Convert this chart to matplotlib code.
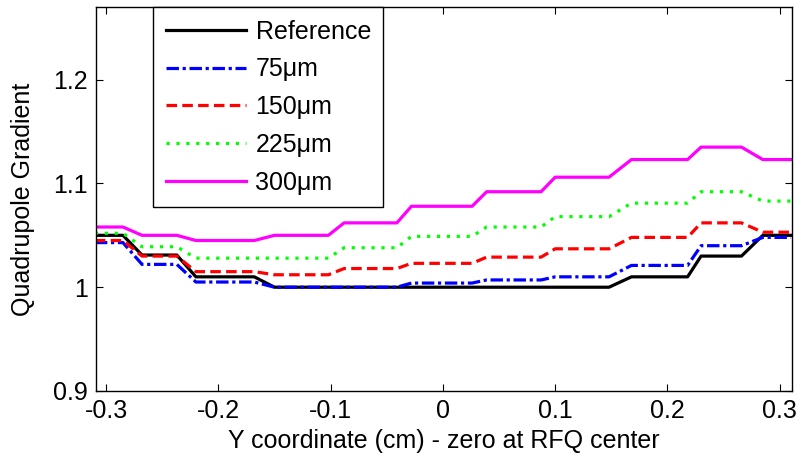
import matplotlib
matplotlib.use('Agg')
import matplotlib.pyplot as plt

plt.rcParams['font.family'] = ['Liberation Sans', 'DejaVu Sans']

# y coordinate (cm), breakpoints of the stepped curves
y_cm = [-0.31, -0.285, -0.268, -0.237, -0.22, -0.168, -0.15, -0.102, -0.088, -0.041, -0.028,
        0.026, 0.039, 0.0875, 0.1, 0.148, 0.168, 0.218, 0.23, 0.266, 0.285, 0.31]

g_ref = [1.050, 1.050, 1.031, 1.031, 1.010, 1.010, 1.000, 1.000, 1.000, 1.000, 1.000,
         1.000, 1.000, 1.000, 1.000, 1.000, 1.010, 1.010, 1.030, 1.030, 1.050, 1.050]
g_75 = [1.043, 1.043, 1.022, 1.022, 1.005, 1.005, 1.000, 1.000, 1.000, 1.000, 1.004,
        1.004, 1.007, 1.007, 1.010, 1.010, 1.021, 1.021, 1.040, 1.040, 1.048, 1.048]
g_150 = [1.045, 1.045, 1.030, 1.030, 1.015, 1.015, 1.012, 1.012, 1.018, 1.018, 1.023,
         1.023, 1.029, 1.029, 1.037, 1.037, 1.048, 1.048, 1.062, 1.062, 1.053, 1.053]
g_225 = [1.052, 1.052, 1.039, 1.039, 1.028, 1.028, 1.028, 1.028, 1.038, 1.038, 1.049,
         1.049, 1.058, 1.058, 1.068, 1.068, 1.081, 1.081, 1.092, 1.092, 1.083, 1.083]
g_300 = [1.058, 1.058, 1.050, 1.050, 1.045, 1.045, 1.050, 1.050, 1.062, 1.062, 1.078,
         1.078, 1.092, 1.092, 1.106, 1.106, 1.123, 1.123, 1.135, 1.135, 1.123, 1.123]

labels = ['Reference', '75\u03bcm', '150\u03bcm', '225\u03bcm', '300\u03bcm']
xticks = [-0.3, -0.2, -0.1, 0, 0.1, 0.2, 0.3]
yticks = [0.9, 1.0, 1.1, 1.2]
yticklabels = ['0.9', '1', '1.1', '1.2']

fig = plt.figure(figsize=(8.01, 4.65), dpi=100)
ax = fig.add_axes([96/801, 1 - 391/465, 696/801, 384/465])

lw = 2.3
ax.plot(y_cm, g_ref, color='black', lw=lw, ls='-', label=labels[0])
ax.plot(y_cm, g_75, color='#0000FF', lw=lw, ls=(0, (3.9, 1.15, 1, 1.15)), label=labels[1])
ax.plot(y_cm, g_150, color='#FF0000', lw=lw, ls=(0, (3.3, 1.65)), label=labels[2])
ax.plot(y_cm, g_225, color='#00FF00', lw=lw, ls=(0, (1, 2.1)), label=labels[3])
ax.plot(y_cm, g_300, color='#FF00FF', lw=lw, ls='-', label=labels[4])

ax.set_xlim(-0.309, 0.311)
ax.set_ylim(0.9, 1.27)
ax.set_xticks(xticks)
ax.set_xticklabels([f'{t:g}' for t in xticks])
ax.set_yticks(yticks)
ax.set_yticklabels(yticklabels)
ax.tick_params(direction='in', top=True, right=True, length=5, width=0.8,
               labelsize=18, pad=6)
for s in ax.spines.values():
    s.set_linewidth(1.0)

ax.set_xlabel('Y coordinate (cm) - zero at RFQ center', fontsize=18, labelpad=4)
ax.set_ylabel('Quadrupole Gradient', fontsize=18, labelpad=13)

leg = ax.legend(loc='upper left', bbox_to_anchor=(57/696, 1.0), fontsize=18,
                handlelength=3.2, handletextpad=0.4, labelspacing=0.55,
                borderpad=0.5, borderaxespad=0, fancybox=False, framealpha=1,
                edgecolor='black')
leg.get_frame().set_linewidth(1.0)

fig.savefig('out.png', dpi=100)
